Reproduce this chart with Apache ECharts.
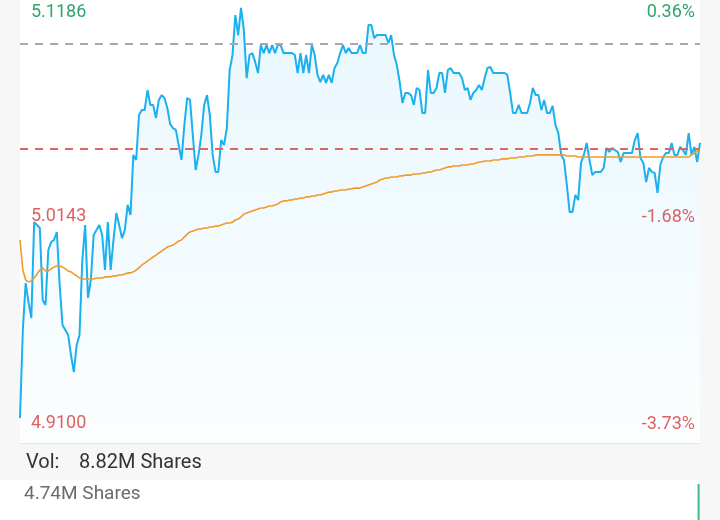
<!DOCTYPE html>
<html>
<head>
<meta charset="utf-8">
<title>Intraday</title>
<script src="https://cdn.jsdelivr.net/npm/echarts@6/dist/echarts.min.js"></script>
<style>
  html, body { margin: 0; padding: 0; background: #f7f7f8; }
  #chart { width: 720px; height: 520px; }
</style>
</head>
<body>
<div id="chart"></div>
<script>
// 价格区间、昨收和最新价
const priceMax = 5.1186;
const priceMin = 4.9100;
const prevClose = 5.10;
const lastPrice = 5.0529;
const priceLabels = ['5.1186', '5.0143', '4.9100'];
const pctLabels = ['0.36%', '-1.68%', '-3.73%'];
const volText = '8.82M Shares';
const volMaxText = '4.74M Shares';
const volMax = 4.74;
const lastVolume = 4.74;

// 分时价格
const price = [
  4.9219, 4.9638, 4.9862, 4.9771, 4.9695, 5.0152, 5.0138, 5.0124, 4.9781, 4.9757,
  5.0019, 5.0057, 5.0067, 5.0105, 4.9853, 4.9662, 4.9638, 4.9614, 4.9519, 4.9438,
  4.9567, 4.9614, 4.9972, 5.0138, 4.9791, 4.9876, 5.0091, 5.0114, 5.0138, 5.0091,
  4.9924, 5.0152, 4.9924, 5.0067, 5.0195, 5.0138, 5.0076, 5.0114, 5.0234, 5.0186,
  5.0472, 5.0448, 5.0662, 5.0686, 5.0686, 5.0781, 5.0710, 5.0710, 5.0648, 5.0734,
  5.0757, 5.0743, 5.0695, 5.0619, 5.0600, 5.0591, 5.0519, 5.0448, 5.0614, 5.0743,
  5.0734, 5.0567, 5.0400, 5.0472, 5.0567, 5.0710, 5.0757, 5.0662, 5.0472, 5.0391,
  5.0391, 5.0543, 5.0519, 5.0600, 5.0876, 5.0948, 5.1138, 5.1043, 5.1172, 5.1067,
  5.0838, 5.0948, 5.0957, 5.0915, 5.0862, 5.0995, 5.0957, 5.0995, 5.0957, 5.0995,
  5.0957, 5.0995, 5.0995, 5.0957, 5.0957, 5.0957, 5.0957, 5.0948, 5.0862, 5.0957,
  5.0862, 5.0948, 5.0862, 5.0995, 5.0948, 5.0853, 5.0819, 5.0853, 5.0815, 5.0853,
  5.0815, 5.0886, 5.0910, 5.0957, 5.0995, 5.0957, 5.0981, 5.0957, 5.0957, 5.0957,
  5.0995, 5.0957, 5.0957, 5.1091, 5.1091, 5.1029, 5.1043, 5.1043, 5.1043, 5.1043,
  5.1005, 5.1043, 5.0948, 5.0900, 5.0819, 5.0719, 5.0767, 5.0767, 5.0757, 5.0710,
  5.0791, 5.0781, 5.0672, 5.0672, 5.0876, 5.0767, 5.0767, 5.0791, 5.0862, 5.0862,
  5.0767, 5.0876, 5.0886, 5.0862, 5.0862, 5.0862, 5.0838, 5.0781, 5.0791, 5.0734,
  5.0767, 5.0781, 5.0805, 5.0781, 5.0838, 5.0886, 5.0891, 5.0862, 5.0862, 5.0862,
  5.0862, 5.0862, 5.0853, 5.0767, 5.0672, 5.0672, 5.0710, 5.0672, 5.0672, 5.0672,
  5.0719, 5.0791, 5.0757, 5.0757, 5.0686, 5.0734, 5.0672, 5.0672, 5.0705, 5.0614,
  5.0576, 5.0472, 5.0448, 5.0329, 5.0200, 5.0200, 5.0281, 5.0257, 5.0434, 5.0472,
  5.0529, 5.0448, 5.0376, 5.0391, 5.0391, 5.0391, 5.0410, 5.0505, 5.0486, 5.0505,
  5.0495, 5.0486, 5.0438, 5.0481, 5.0481, 5.0481, 5.0481, 5.0543, 5.0576, 5.0457,
  5.0434, 5.0343, 5.0410, 5.0391, 5.0386, 5.0291, 5.0424, 5.0462, 5.0481, 5.0481,
  5.0529, 5.0472, 5.0472, 5.0510, 5.0495, 5.0472, 5.0576, 5.0472, 5.0510, 5.0438,
  5.0529
];

// 均价线
const avgPrice = [
  5.0067, 4.9924, 4.9876, 4.9867, 4.9872, 4.9886, 4.9905, 4.9924, 4.9934, 4.9919,
  4.9919, 4.9929, 4.9938, 4.9943, 4.9943, 4.9938, 4.9929, 4.9919, 4.9915, 4.9905,
  4.9896, 4.9886, 4.9881, 4.9881, 4.9881, 4.9881, 4.9881, 4.9886, 4.9886, 4.9886,
  4.9891, 4.9891, 4.9891, 4.9896, 4.9896, 4.9900, 4.9900, 4.9905, 4.9910, 4.9910,
  4.9915, 4.9924, 4.9934, 4.9948, 4.9957, 4.9967, 4.9976, 4.9986, 4.9995, 5.0005,
  5.0014, 5.0024, 5.0033, 5.0038, 5.0043, 5.0052, 5.0062, 5.0067, 5.0081, 5.0095,
  5.0105, 5.0110, 5.0114, 5.0119, 5.0119, 5.0124, 5.0124, 5.0129, 5.0129, 5.0133,
  5.0133, 5.0138, 5.0143, 5.0148, 5.0148, 5.0152, 5.0162, 5.0167, 5.0176, 5.0191,
  5.0195, 5.0200, 5.0205, 5.0210, 5.0214, 5.0219, 5.0219, 5.0224, 5.0229, 5.0229,
  5.0234, 5.0238, 5.0248, 5.0253, 5.0253, 5.0257, 5.0257, 5.0262, 5.0262, 5.0267,
  5.0267, 5.0272, 5.0272, 5.0276, 5.0276, 5.0281, 5.0281, 5.0286, 5.0291, 5.0295,
  5.0295, 5.0300, 5.0300, 5.0305, 5.0305, 5.0305, 5.0310, 5.0310, 5.0314, 5.0314,
  5.0314, 5.0319, 5.0324, 5.0329, 5.0333, 5.0338, 5.0343, 5.0353, 5.0357, 5.0362,
  5.0362, 5.0367, 5.0367, 5.0367, 5.0372, 5.0372, 5.0376, 5.0376, 5.0376, 5.0381,
  5.0381, 5.0381, 5.0386, 5.0386, 5.0391, 5.0391, 5.0396, 5.0400, 5.0400, 5.0405,
  5.0410, 5.0415, 5.0415, 5.0419, 5.0419, 5.0419, 5.0424, 5.0424, 5.0424, 5.0429,
  5.0429, 5.0434, 5.0438, 5.0438, 5.0443, 5.0443, 5.0443, 5.0448, 5.0448, 5.0448,
  5.0453, 5.0453, 5.0453, 5.0457, 5.0457, 5.0457, 5.0462, 5.0462, 5.0462, 5.0467,
  5.0467, 5.0467, 5.0472, 5.0472, 5.0472, 5.0472, 5.0472, 5.0472, 5.0472, 5.0472,
  5.0472, 5.0472, 5.0472, 5.0467, 5.0467, 5.0467, 5.0467, 5.0462, 5.0462, 5.0462,
  5.0462, 5.0462, 5.0462, 5.0462, 5.0462, 5.0462, 5.0462, 5.0462, 5.0462, 5.0462,
  5.0462, 5.0462, 5.0462, 5.0462, 5.0462, 5.0462, 5.0462, 5.0462, 5.0462, 5.0462,
  5.0462, 5.0462, 5.0462, 5.0462, 5.0462, 5.0462, 5.0462, 5.0462, 5.0462, 5.0462,
  5.0462, 5.0462, 5.0462, 5.0462, 5.0462, 5.0462, 5.0462, 5.0472, 5.0481, 5.0491,
  5.0495
];

// 时间轴 09:30-11:30, 13:00-15:00
const times = [];
function pushRange (h0, m0, h1, m1) {
  for (let t = h0 * 60 + m0; t <= h1 * 60 + m1; t++) {
    times.push(String(Math.floor(t / 60)).padStart(2, '0') + ':' + String(t % 60).padStart(2, '0'));
  }
}
pushRange(9, 30, 11, 30);
pushRange(13, 1, 15, 0);

const green = '#2fa56c';
const red = '#e0605e';
const font = 'Roboto, "Noto Sans", sans-serif';

let myChart = echarts.init(document.getElementById('chart'));

let option = {
  backgroundColor: '#f7f7f8',
  animation: false,
  grid: [
    { left: 20, right: 20, top: 5, height: 438 },
    { left: 20, right: 20, top: 484, bottom: 0 }
  ],
  xAxis: [
    { type: 'category', gridIndex: 0, data: times, boundaryGap: false, show: false },
    { type: 'category', gridIndex: 1, data: times, boundaryGap: true, show: false }
  ],
  yAxis: [
    { type: 'value', gridIndex: 0, min: priceMin, max: priceMax, show: false },
    { type: 'value', gridIndex: 1, min: 0, max: volMax, show: false }
  ],
  graphic: [
    { type: 'rect', z: -10, shape: { x: 20, y: 0, width: 680, height: 443 }, style: { fill: '#ffffff' } },
    { type: 'rect', z: -10, shape: { x: 0, y: 443, width: 720, height: 37 }, style: { fill: '#f7f7f8' } },
    { type: 'rect', z: -10, shape: { x: 0, y: 480, width: 700, height: 40 }, style: { fill: '#ffffff' } },
    { type: 'line', z: -9, shape: { x1: 20, y1: 443.5, x2: 700, y2: 443.5 }, style: { stroke: '#e4e4e9', lineWidth: 1 } },
    { type: 'text', x: 31, y: 12, style: { text: priceLabels[0], font: '18px ' + font, fill: green, verticalAlign: 'middle' } },
    { type: 'text', x: 31, y: 216, style: { text: priceLabels[1], font: '18px ' + font, fill: red, verticalAlign: 'middle' } },
    { type: 'text', x: 31, y: 423, style: { text: priceLabels[2], font: '18px ' + font, fill: red, verticalAlign: 'middle' } },
    { type: 'text', x: 695, y: 12, style: { text: pctLabels[0], font: '18px ' + font, fill: green, align: 'right', verticalAlign: 'middle' } },
    { type: 'text', x: 695, y: 217, style: { text: pctLabels[1], font: '18px ' + font, fill: red, align: 'right', verticalAlign: 'middle' } },
    { type: 'text', x: 695, y: 424, style: { text: pctLabels[2], font: '18px ' + font, fill: red, align: 'right', verticalAlign: 'middle' } },
    { type: 'text', x: 26, y: 463, style: { text: 'Vol:', font: '20px ' + font, fill: '#333333', verticalAlign: 'middle' } },
    { type: 'text', x: 79, y: 463, style: { text: volText, font: '20px ' + font, fill: '#333333', verticalAlign: 'middle' } },
    { type: 'text', x: 24, y: 494, style: { text: volMaxText, font: '19px ' + font, fill: '#6b6b70', verticalAlign: 'middle' } }
  ],
  series: [
    {
      name: 'price',
      type: 'line',
      xAxisIndex: 0,
      yAxisIndex: 0,
      data: price,
      symbol: 'none',
      z: 3,
      lineStyle: { color: '#1bb0ee', width: 2 },
      areaStyle: {
        origin: 'start',
        color: {
          type: 'linear', x: 0, y: 0, x2: 0, y2: 1,
          colorStops: [
            { offset: 0, color: 'rgba(27,176,238,0.14)' },
            { offset: 1, color: 'rgba(27,176,238,0.02)' }
          ]
        }
      },
      markLine: {
        silent: true,
        symbol: ['none', 'none'],
        label: { show: false },
        data: [
          { yAxis: prevClose, lineStyle: { color: '#a8a8b2', width: 2, type: [8, 7] } },
          { yAxis: lastPrice, lineStyle: { color: '#e06464', width: 2, type: [8, 7] } }
        ]
      }
    },
    {
      name: 'avg',
      type: 'line',
      xAxisIndex: 0,
      yAxisIndex: 0,
      data: avgPrice,
      symbol: 'none',
      z: 4,
      lineStyle: { color: '#f09a2c', width: 1.6 }
    },
    {
      name: 'vol',
      type: 'bar',
      xAxisIndex: 1,
      yAxisIndex: 1,
      barWidth: 2,
      data: [[times.length - 1, lastVolume]],
      itemStyle: { color: '#3dbb82' }
    }
  ]
};
myChart.setOption(option);
</script>
</body>
</html>
